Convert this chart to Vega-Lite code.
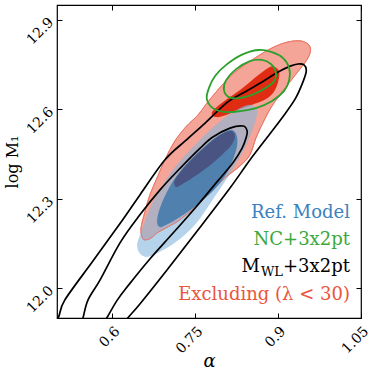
{
"$schema": "https://vega.github.io/schema/vega-lite/v6.json",
"width": 304, "height": 313,
"autosize": {"type": "none"},
"padding": {"left": 57, "top": 5, "right": 21, "bottom": 58},
"background": "white",
"config": {
  "view": {"stroke": "#000", "strokeWidth": 1.2},
  "font": "DejaVu Serif",
  "axis": {"grid": false, "domain": false, "tickColor": "#000", "tickSize": -5, "tickWidth": 1, "labelColor": "#000", "labelFont": "DejaVu Serif", "labelFontSize": 14, "titleFont": "DejaVu Serif", "titleColor": "#000", "titleFontWeight": "normal"},
  "text": {"font": "DejaVu Serif"}
},
"datasets": {
"ct": [
{"c":"RO","i":1,"a":0.943,"m":12.829},{"c":"RO","i":2,"a":0.918,"m":12.826},{"c":"RO","i":3,"a":0.889,"m":12.806},{"c":"RO","i":4,"a":0.853,"m":12.766},{"c":"RO","i":5,"a":0.822,"m":12.725},{"c":"RO","i":6,"a":0.799,"m":12.682},{"c":"RO","i":7,"a":0.773,"m":12.625},{"c":"RO","i":8,"a":0.755,"m":12.581},{"c":"RO","i":9,"a":0.733,"m":12.541},{"c":"RO","i":10,"a":0.712,"m":12.490},{"c":"RO","i":11,"a":0.695,"m":12.430},{"c":"RO","i":12,"a":0.681,"m":12.370},{"c":"RO","i":13,"a":0.668,"m":12.313},{"c":"RO","i":14,"a":0.659,"m":12.256},{"c":"RO","i":15,"a":0.652,"m":12.202},{"c":"RO","i":16,"a":0.654,"m":12.171},{"c":"RO","i":17,"a":0.659,"m":12.162},{"c":"RO","i":18,"a":0.670,"m":12.168},{"c":"RO","i":19,"a":0.681,"m":12.185},{"c":"RO","i":20,"a":0.697,"m":12.202},{"c":"RO","i":21,"a":0.719,"m":12.225},{"c":"RO","i":22,"a":0.744,"m":12.262},{"c":"RO","i":23,"a":0.764,"m":12.296},{"c":"RO","i":24,"a":0.784,"m":12.333},{"c":"RO","i":25,"a":0.806,"m":12.373},{"c":"RO","i":26,"a":0.831,"m":12.410},{"c":"RO","i":27,"a":0.849,"m":12.447},{"c":"RO","i":28,"a":0.860,"m":12.504},{"c":"RO","i":29,"a":0.875,"m":12.564},{"c":"RO","i":30,"a":0.889,"m":12.611},{"c":"RO","i":31,"a":0.907,"m":12.658},{"c":"RO","i":32,"a":0.931,"m":12.715},{"c":"RO","i":33,"a":0.954,"m":12.772},{"c":"RO","i":34,"a":0.958,"m":12.809},
{"c":"RI","i":1,"a":0.882,"m":12.739},{"c":"RI","i":2,"a":0.894,"m":12.742},{"c":"RI","i":3,"a":0.902,"m":12.725},{"c":"RI","i":4,"a":0.900,"m":12.692},{"c":"RI","i":5,"a":0.891,"m":12.655},{"c":"RI","i":6,"a":0.875,"m":12.631},{"c":"RI","i":7,"a":0.853,"m":12.615},{"c":"RI","i":8,"a":0.827,"m":12.598},{"c":"RI","i":9,"a":0.806,"m":12.581},{"c":"RI","i":10,"a":0.788,"m":12.574},{"c":"RI","i":11,"a":0.780,"m":12.588},{"c":"RI","i":12,"a":0.791,"m":12.611},{"c":"RI","i":13,"a":0.813,"m":12.641},{"c":"RI","i":14,"a":0.838,"m":12.675},{"c":"RI","i":15,"a":0.862,"m":12.712},
{"c":"BO","i":1,"a":0.849,"m":12.615},{"c":"BO","i":2,"a":0.862,"m":12.598},{"c":"BO","i":3,"a":0.858,"m":12.554},{"c":"BO","i":4,"a":0.844,"m":12.487},{"c":"BO","i":5,"a":0.831,"m":12.440},{"c":"BO","i":6,"a":0.809,"m":12.373},{"c":"BO","i":7,"a":0.784,"m":12.303},{"c":"BO","i":8,"a":0.759,"m":12.235},{"c":"BO","i":9,"a":0.735,"m":12.185},{"c":"BO","i":10,"a":0.710,"m":12.148},{"c":"BO","i":11,"a":0.686,"m":12.122},{"c":"BO","i":12,"a":0.663,"m":12.105},{"c":"BO","i":13,"a":0.650,"m":12.116},{"c":"BO","i":14,"a":0.645,"m":12.142},{"c":"BO","i":15,"a":0.648,"m":12.168},{"c":"BO","i":16,"a":0.656,"m":12.209},{"c":"BO","i":17,"a":0.670,"m":12.276},{"c":"BO","i":18,"a":0.688,"m":12.336},{"c":"BO","i":19,"a":0.710,"m":12.397},{"c":"BO","i":20,"a":0.741,"m":12.464},{"c":"BO","i":21,"a":0.777,"m":12.531},{"c":"BO","i":22,"a":0.813,"m":12.584},{"c":"BO","i":23,"a":0.835,"m":12.608},
{"c":"BI","i":1,"a":0.813,"m":12.531},{"c":"BI","i":2,"a":0.824,"m":12.517},{"c":"BI","i":3,"a":0.826,"m":12.480},{"c":"BI","i":4,"a":0.818,"m":12.430},{"c":"BI","i":5,"a":0.804,"m":12.376},{"c":"BI","i":6,"a":0.784,"m":12.329},{"c":"BI","i":7,"a":0.764,"m":12.296},{"c":"BI","i":8,"a":0.744,"m":12.266},{"c":"BI","i":9,"a":0.719,"m":12.235},{"c":"BI","i":10,"a":0.697,"m":12.212},{"c":"BI","i":11,"a":0.686,"m":12.205},{"c":"BI","i":12,"a":0.681,"m":12.222},{"c":"BI","i":13,"a":0.685,"m":12.262},{"c":"BI","i":14,"a":0.697,"m":12.316},{"c":"BI","i":15,"a":0.715,"m":12.373},{"c":"BI","i":16,"a":0.741,"m":12.430},{"c":"BI","i":17,"a":0.768,"m":12.477},{"c":"BI","i":18,"a":0.791,"m":12.511},
{"c":"NV","i":1,"a":0.815,"m":12.527},{"c":"NV","i":2,"a":0.822,"m":12.511},{"c":"NV","i":3,"a":0.818,"m":12.487},{"c":"NV","i":4,"a":0.808,"m":12.464},{"c":"NV","i":5,"a":0.782,"m":12.420},{"c":"NV","i":6,"a":0.750,"m":12.376},{"c":"NV","i":7,"a":0.724,"m":12.346},{"c":"NV","i":8,"a":0.715,"m":12.339},{"c":"NV","i":9,"a":0.712,"m":12.356},{"c":"NV","i":10,"a":0.719,"m":12.380},{"c":"NV","i":11,"a":0.741,"m":12.427},{"c":"NV","i":12,"a":0.770,"m":12.477},{"c":"NV","i":13,"a":0.795,"m":12.514},
{"c":"GO","i":1,"a":0.864,"m":12.799},{"c":"GO","i":2,"a":0.889,"m":12.792},{"c":"GO","i":3,"a":0.909,"m":12.772},{"c":"GO","i":4,"a":0.920,"m":12.739},{"c":"GO","i":5,"a":0.920,"m":12.698},{"c":"GO","i":6,"a":0.911,"m":12.662},{"c":"GO","i":7,"a":0.889,"m":12.628},{"c":"GO","i":8,"a":0.860,"m":12.604},{"c":"GO","i":9,"a":0.831,"m":12.594},{"c":"GO","i":10,"a":0.804,"m":12.591},{"c":"GO","i":11,"a":0.782,"m":12.604},{"c":"GO","i":12,"a":0.771,"m":12.635},{"c":"GO","i":13,"a":0.775,"m":12.672},{"c":"GO","i":14,"a":0.786,"m":12.712},{"c":"GO","i":15,"a":0.806,"m":12.749},{"c":"GO","i":16,"a":0.833,"m":12.782},
{"c":"GI","i":1,"a":0.849,"m":12.762},{"c":"GI","i":2,"a":0.871,"m":12.766},{"c":"GI","i":3,"a":0.887,"m":12.752},{"c":"GI","i":4,"a":0.896,"m":12.725},{"c":"GI","i":5,"a":0.893,"m":12.695},{"c":"GI","i":6,"a":0.878,"m":12.672},{"c":"GI","i":7,"a":0.856,"m":12.651},{"c":"GI","i":8,"a":0.831,"m":12.638},{"c":"GI","i":9,"a":0.811,"m":12.641},{"c":"GI","i":10,"a":0.802,"m":12.665},{"c":"GI","i":11,"a":0.806,"m":12.698},{"c":"GI","i":12,"a":0.824,"m":12.735},
{"c":"KI","i":1,"a":0.837,"m":12.544},{"c":"KI","i":2,"a":0.844,"m":12.527},{"c":"KI","i":3,"a":0.842,"m":12.504},{"c":"KI","i":4,"a":0.835,"m":12.470},{"c":"KI","i":5,"a":0.818,"m":12.420},{"c":"KI","i":6,"a":0.791,"m":12.360},{"c":"KI","i":7,"a":0.750,"m":12.269},{"c":"KI","i":8,"a":0.710,"m":12.185},{"c":"KI","i":9,"a":0.668,"m":12.098},{"c":"KI","i":10,"a":0.628,"m":12.007},{"c":"KI","i":11,"a":0.609,"m":11.960},{"c":"KI","i":12,"a":0.590,"m":11.900},{"c":"KI","i":13,"a":0.572,"m":11.843},{"c":"KI","i":14,"a":0.556,"m":11.816},{"c":"KI","i":15,"a":0.542,"m":11.826},{"c":"KI","i":16,"a":0.540,"m":11.860},{"c":"KI","i":17,"a":0.547,"m":11.900},{"c":"KI","i":18,"a":0.556,"m":11.960},{"c":"KI","i":19,"a":0.578,"m":12.028},{"c":"KI","i":20,"a":0.614,"m":12.152},{"c":"KI","i":21,"a":0.650,"m":12.246},{"c":"KI","i":22,"a":0.686,"m":12.329},{"c":"KI","i":23,"a":0.723,"m":12.403},{"c":"KI","i":24,"a":0.759,"m":12.470},{"c":"KI","i":25,"a":0.782,"m":12.507},{"c":"KI","i":26,"a":0.813,"m":12.537},
{"c":"KO","i":1,"a":0.936,"m":12.752},{"c":"KO","i":2,"a":0.947,"m":12.749},{"c":"KO","i":3,"a":0.951,"m":12.729},{"c":"KO","i":4,"a":0.945,"m":12.692},{"c":"KO","i":5,"a":0.931,"m":12.635},{"c":"KO","i":6,"a":0.907,"m":12.571},{"c":"KO","i":7,"a":0.885,"m":12.517},{"c":"KO","i":8,"a":0.849,"m":12.430},{"c":"KO","i":9,"a":0.813,"m":12.336},{"c":"KO","i":10,"a":0.755,"m":12.195},{"c":"KO","i":11,"a":0.699,"m":12.061},{"c":"KO","i":12,"a":0.650,"m":11.947},{"c":"KO","i":13,"a":0.628,"m":11.900},{"c":"KO","i":14,"a":0.596,"m":11.826},{"c":"KO","i":15,"a":0.560,"m":11.752},{"c":"KO","i":16,"a":0.505,"m":11.719},{"c":"KO","i":17,"a":0.473,"m":11.752},{"c":"KO","i":18,"a":0.471,"m":11.809},{"c":"KO","i":19,"a":0.484,"m":11.860},{"c":"KO","i":20,"a":0.502,"m":11.900},{"c":"KO","i":21,"a":0.514,"m":11.960},{"c":"KO","i":22,"a":0.565,"m":12.091},{"c":"KO","i":23,"a":0.616,"m":12.222},{"c":"KO","i":24,"a":0.650,"m":12.313},{"c":"KO","i":25,"a":0.695,"m":12.430},{"c":"KO","i":26,"a":0.732,"m":12.494},{"c":"KO","i":27,"a":0.768,"m":12.554},{"c":"KO","i":28,"a":0.809,"m":12.625},{"c":"KO","i":29,"a":0.840,"m":12.658},{"c":"KO","i":30,"a":0.871,"m":12.692},{"c":"KO","i":31,"a":0.900,"m":12.725},{"c":"KO","i":32,"a":0.922,"m":12.745}
],
"leg": [
{"t":"Ref. Model","a":1.03,"m":12.235},
{"t":"NC+3x2pt","a":1.03,"m":12.145},
{"t":"+3x2pt","a":1.03,"m":12.055},
{"t":"WL","a":1.03,"m":12.055},
{"t":"M","a":1.03,"m":12.055},
{"t":"Excluding (λ < 30)","a":1.03,"m":11.962}
]
},
"data": {"name": "ct"},
"resolve": {"axis": {"x": "independent", "y": "independent"}},
"encoding": {
  "x": {"field": "a", "type": "quantitative", "scale": {"domain": [0.5, 1.05], "nice": false, "zero": false}, "axis": null},
  "y": {"field": "m", "type": "quantitative", "scale": {"domain": [11.9, 12.95], "nice": false, "zero": false}, "axis": null}
},
"layer": [
  {"transform": [{"filter": "datum.c === 'RO'"}],
   "mark": {"type": "line", "interpolate": "cardinal-closed", "fill": "#f4a597", "stroke": "#ea7463", "strokeWidth": 0.8, "clip": true},
   "encoding": {
     "x": {"field": "a", "type": "quantitative", "scale": {"domain": [0.5, 1.05], "nice": false, "zero": false},
           "axis": {"values": [0.6, 0.75, 0.9, 1.05], "labelExpr": "format(datum.value, '~g')", "labelAngle": -45, "labelAlign": "right", "labelBaseline": "top", "labelPadding": 11, "title": "α", "titleFontSize": 18, "titleFontStyle": "italic", "titlePadding": -3}},
     "y": {"field": "m", "type": "quantitative", "scale": {"domain": [11.9, 12.95], "nice": false, "zero": false},
           "axis": {"values": [12.0, 12.3, 12.6, 12.9], "format": ".1f", "labelAngle": -45, "labelAlign": "right", "labelBaseline": "middle", "labelPadding": 11, "title": "log M₁", "titleFontSize": 16, "titlePadding": 4}},
     "order": {"field": "i"}}},
  {"transform": [{"filter": "datum.c === 'RI'"}],
   "mark": {"type": "line", "interpolate": "cardinal-closed", "fill": "#e02c12", "strokeWidth": 0, "clip": true},
   "encoding": {"order": {"field": "i"}}},
  {"transform": [{"filter": "datum.c === 'BO'"}],
   "mark": {"type": "line", "interpolate": "cardinal-closed", "fill": "#84b6dc", "fillOpacity": 0.6, "strokeWidth": 0, "clip": true},
   "encoding": {"order": {"field": "i"}}},
  {"transform": [{"filter": "datum.c === 'RO'"}],
   "mark": {"type": "line", "interpolate": "cardinal-closed", "stroke": "#ea7463", "strokeWidth": 0.9, "clip": true},
   "encoding": {"order": {"field": "i"}}},
  {"transform": [{"filter": "datum.c === 'BI'"}],
   "mark": {"type": "line", "interpolate": "cardinal-closed", "fill": "#5081ae", "strokeWidth": 0, "clip": true},
   "encoding": {"order": {"field": "i"}}},
  {"transform": [{"filter": "datum.c === 'NV'"}],
   "mark": {"type": "line", "interpolate": "cardinal-closed", "fill": "#4a5482", "strokeWidth": 0, "clip": true},
   "encoding": {"order": {"field": "i"}}},
  {"transform": [{"filter": "datum.c === 'KI' || datum.c === 'KO'"}],
   "mark": {"type": "line", "interpolate": "cardinal-closed", "stroke": "#000", "strokeWidth": 1.7, "clip": true},
   "encoding": {
     "x": {"field": "a", "type": "quantitative", "scale": {"domain": [0.5, 1.05], "nice": false, "zero": false},
           "axis": {"orient": "top", "values": [0.6, 0.75, 0.9, 1.05], "labels": false, "title": null}},
     "y": {"field": "m", "type": "quantitative", "scale": {"domain": [11.9, 12.95], "nice": false, "zero": false},
           "axis": {"orient": "right", "values": [12.0, 12.3, 12.6, 12.9], "labels": false, "title": null}},
     "detail": {"field": "c"}, "order": {"field": "i"}}},
  {"transform": [{"filter": "datum.c === 'GO' || datum.c === 'GI'"}],
   "mark": {"type": "line", "interpolate": "cardinal-closed", "stroke": "#2ca02c", "strokeWidth": 1.8, "clip": true},
   "encoding": {"detail": {"field": "c"}, "order": {"field": "i"}}},
  {"data": {"name": "leg"}, "transform": [{"filter": "datum.t === 'Ref. Model'"}],
   "mark": {"type": "text", "align": "right", "baseline": "alphabetic", "fontSize": 18, "fill": "#3c82be", "font": "DejaVu Serif"},
   "encoding": {"text": {"field": "t", "type": "nominal"}}},
  {"data": {"name": "leg"}, "transform": [{"filter": "datum.t === 'NC+3x2pt'"}],
   "mark": {"type": "text", "align": "right", "baseline": "alphabetic", "fontSize": 18, "fill": "#3aa83a", "font": "DejaVu Serif"},
   "encoding": {"text": {"field": "t", "type": "nominal"}}},
  {"data": {"name": "leg"}, "transform": [{"filter": "datum.t === '+3x2pt'"}],
   "mark": {"type": "text", "align": "right", "baseline": "alphabetic", "fontSize": 18, "fill": "#000", "font": "DejaVu Serif"},
   "encoding": {"text": {"field": "t", "type": "nominal"}}},
  {"data": {"name": "leg"}, "transform": [{"filter": "datum.t === 'WL'"}],
   "mark": {"type": "text", "align": "right", "baseline": "alphabetic", "fontSize": 13, "dx": -67, "dy": 4, "fill": "#000", "font": "DejaVu Serif"},
   "encoding": {"text": {"field": "t", "type": "nominal"}}},
  {"data": {"name": "leg"}, "transform": [{"filter": "datum.t === 'M'"}],
   "mark": {"type": "text", "align": "right", "baseline": "alphabetic", "fontSize": 18, "dx": -90, "fill": "#000", "font": "DejaVu Serif"},
   "encoding": {"text": {"field": "t", "type": "nominal"}}},
  {"data": {"name": "leg"}, "transform": [{"filter": "datum.t === 'Excluding (λ < 30)'"}],
   "mark": {"type": "text", "align": "right", "baseline": "alphabetic", "fontSize": 18, "fill": "#ea553c", "font": "DejaVu Serif"},
   "encoding": {"text": {"field": "t", "type": "nominal"}}}
]
}
